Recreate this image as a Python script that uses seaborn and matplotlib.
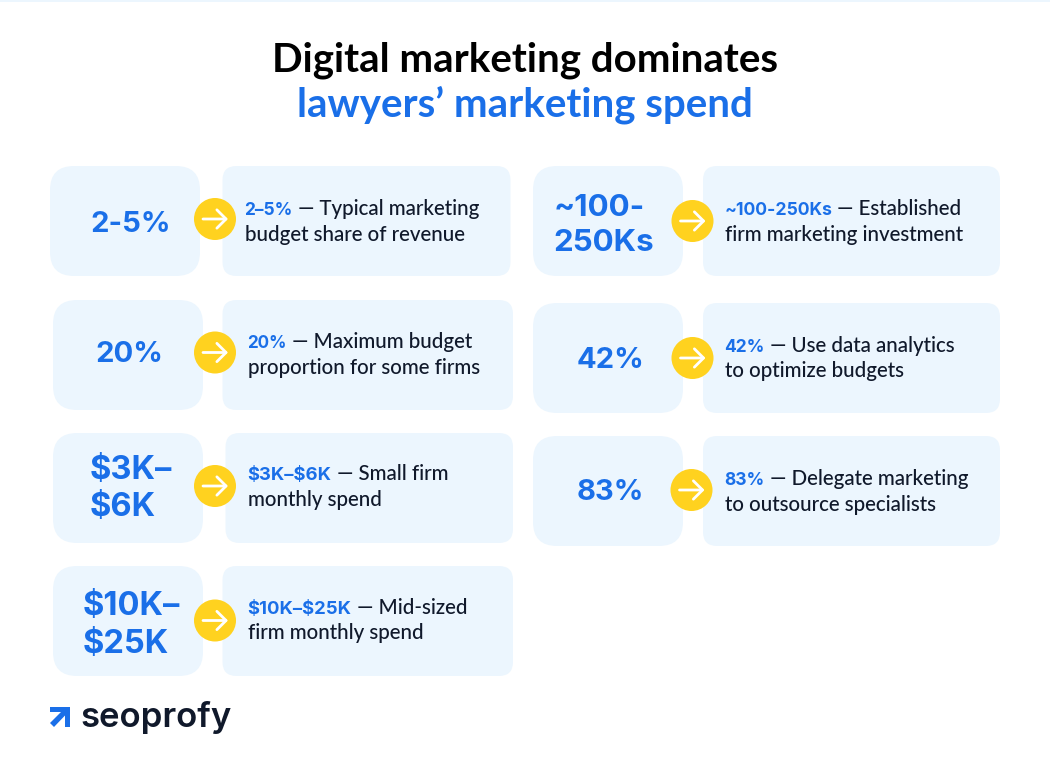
import matplotlib
matplotlib.use('Agg')
import matplotlib.pyplot as plt
import pandas as pd
import seaborn as sns
from matplotlib.patches import FancyBboxPatch, Polygon

# chart content
title_top = 'Digital marketing dominates'
title_bottom = 'lawyers’ marketing spend'
big_labels = ['2-5%', '20%', '\\$3K–\n\\$6K', '\\$10K–\n\\$25K', '~100-\n250Ks', '42%', '83%']
highlights = ['2–5%', '20%', '\\$3K–\\$6K', '\\$10K–\\$25K', '~100-250Ks', '42%', '83%']
first_lines = [' — Typical marketing', ' — Maximum budget', ' — Small firm', ' — Mid-sized',
               ' — Established', ' — Use data analytics', ' — Delegate marketing']
second_lines = ['budget share of revenue', 'proportion for some firms', 'monthly spend', 'firm monthly spend',
                'firm marketing investment', 'to optimize budgets', 'to outsource specialists']
brand = 'seoprofy'

# layout in pixels of the 1050x782 picture
left_x0 = [50, 53, 53, 53, 533, 533, 533]
card_top = [166, 300, 433, 566, 166, 303, 436]
right_x0 = [222.5, 222.5, 225.5, 222.5, 703, 703, 703]
right_x1 = [510.5, 513, 513, 513, 1000, 1000, 1000]
dot_x = [215, 215, 215, 215, 692.5, 692.5, 691.5]
dot_y = [219, 352.5, 486, 620.5, 221, 358, 490]
text_x = [244.5, 247.5, 247.5, 247.5, 724.5, 724.5, 724.5]
big_x = [130.5, 129, 130.5, 131, 604, 610.5, 610.5]
big_y = [224, 354, 489, 625.5, 225.5, 360, 492]
big_size = [21, 21, 23.5, 23.5, 22.5, 21, 21]
small_size = [12.5, 12.3, 13.3, 13.3, 12.7, 12.5, 12.5]
line1_y = [215, 348, 480.5, 613.5, 215, 351.5, 485]

BLUE = '#1a6fe8'
INK = '#10192b'
CARD = '#ecf6fe'
YELLOW = '#ffd21f'

sns.set_theme(style='white')
plt.rcParams['font.family'] = ['Lato', 'DejaVu Sans']

fig = plt.figure(figsize=(10.5, 7.82), dpi=100)
ax = fig.add_axes([0, 0, 1, 1])
ax.set_xlim(0, 1050)
ax.set_ylim(782, 0)
ax.axis('off')

ax.axhspan(0, 2, color=CARD, lw=0)

ax.text(525, 71.5, title_top, ha='center', va='baseline', fontsize=29, fontweight='bold', color='black')
ax.text(525, 116.5, title_bottom, ha='center', va='baseline', fontsize=29, fontweight='bold', color=BLUE)

renderer = fig.canvas.get_renderer()

for i in range(len(big_labels)):
    ax.add_patch(FancyBboxPatch((left_x0[i], card_top[i]), 150, 110, boxstyle='round,pad=0,rounding_size=24',
                                fc=CARD, ec='none', zorder=1))
    ax.add_patch(FancyBboxPatch((right_x0[i], card_top[i]), right_x1[i] - right_x0[i], 110,
                                boxstyle='round,pad=0,rounding_size=14', fc=CARD, ec='none', zorder=1))
    ax.text(big_x[i], big_y[i], big_labels[i], ha='center', va='center', multialignment='left',
            fontsize=big_size[i], fontweight='bold', color=BLUE, family=['Inter', 'DejaVu Sans'],
            linespacing=1.28, zorder=3)

    # highlighted run followed by the normal text on the same line
    t = ax.text(text_x[i], line1_y[i], highlights[i], ha='left', va='baseline', fontsize=small_size[i],
                fontweight='bold', color=BLUE, family=['Inter', 'DejaVu Sans'], zorder=3)
    x_end = t.get_window_extent(renderer).x1
    ax.text(x_end, line1_y[i], first_lines[i], ha='left', va='baseline', fontsize=14.8, fontweight='medium', color=INK,
            zorder=3)
    ax.text(text_x[i] + 0.5, line1_y[i] + 25.7, second_lines[i], ha='left', va='baseline', fontsize=14.8,
            fontweight='medium', color=INK, zorder=3)

    # white arrow on the dot
    ax.annotate('', xy=(dot_x[i] + 13, dot_y[i]), xytext=(dot_x[i] - 12, dot_y[i]), zorder=5,
                arrowprops=dict(arrowstyle='->,head_length=0.55,head_width=0.55', color='white', lw=2,
                                shrinkA=0, shrinkB=0))

dots = pd.DataFrame({'x': dot_x, 'y': dot_y})
sns.scatterplot(data=dots, x='x', y='y', s=915, color=YELLOW, edgecolor='none', linewidth=0, ax=ax, zorder=4)
ax.set_xlabel('')
ax.set_ylabel('')

# logo
ax.add_patch(Polygon([(50, 707), (70, 707), (70, 727), (65, 727), (65, 715.5), (54, 727), (50, 723), (61, 712), (50, 712)],
                     closed=True, fc=BLUE, ec='none', zorder=3))
ax.text(81, 727, brand, ha='left', va='baseline', fontsize=25, fontweight='semibold', color=INK,
        family=['Inter', 'DejaVu Sans'])

fig.savefig('out.png', dpi=100)
